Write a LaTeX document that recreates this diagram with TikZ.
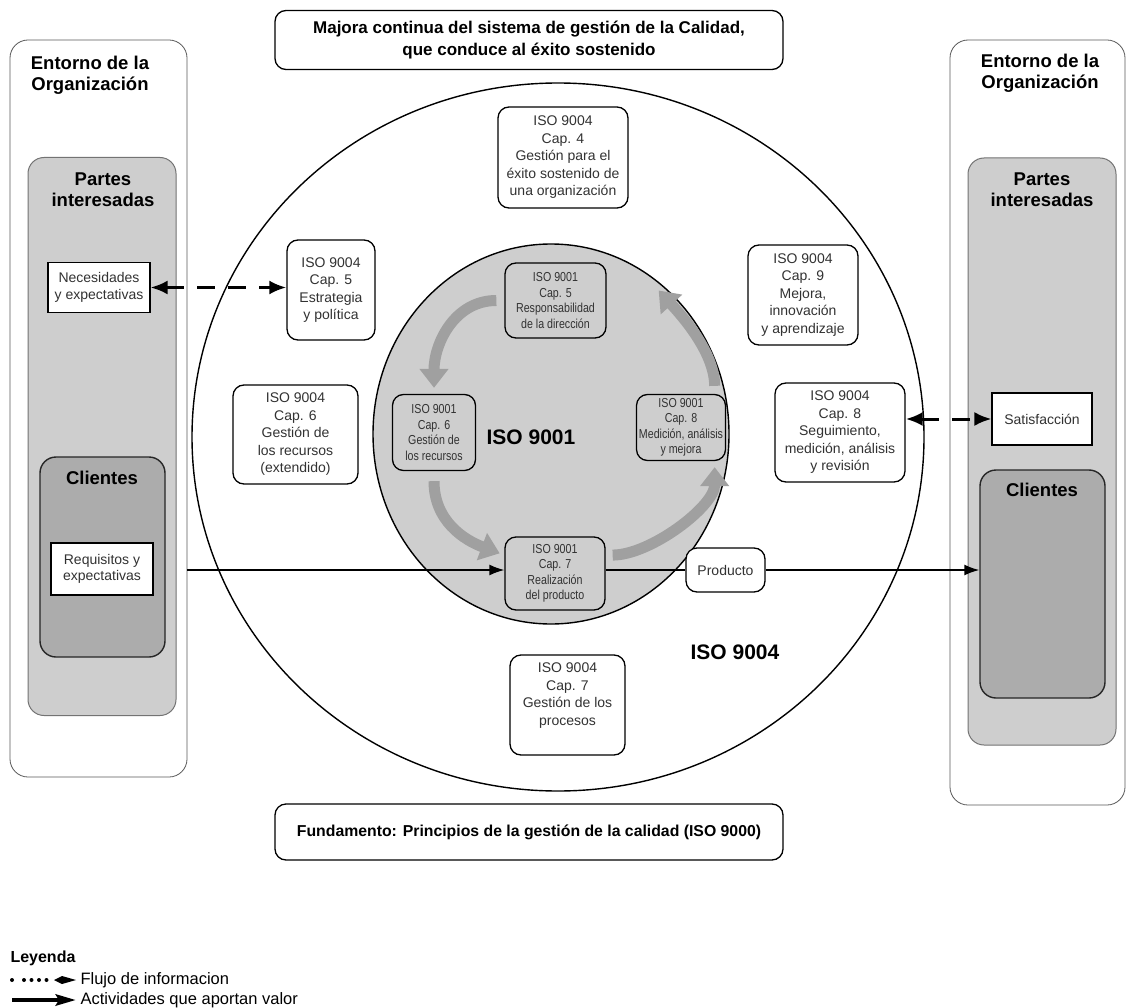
\documentclass[tikz,border=0pt]{standalone}
\usepackage{fontspec}
\setmainfont{Liberation Sans}
\newfontfamily\narrowsans[FakeStretch=0.82]{Liberation Sans}
\usetikzlibrary{arrows.meta,shapes.geometric,calc}
\definecolor{grisA}{RGB}{206,206,206}
\definecolor{grisB}{RGB}{172,172,172}
\definecolor{grisC}{RGB}{160,160,160}
\definecolor{texto}{RGB}{50,50,50}
\begin{document}
\begin{tikzpicture}[x=1pt,y=-1pt,
	wh/.style 2 args = {minimum width=#1pt,minimum height=#2pt},
	iso node/.style = {draw,rounded corners=11pt,fill=white,line width=1.3pt,align=center,inner sep=1pt,text=texto,font=\fontsize{14}{17.5}\selectfont},
	core node/.style = {iso node,fill=grisA,inner sep=0pt,font=\narrowsans\fontsize{13}{15.5}\selectfont},
	note node/.style = {draw,fill=white,line width=1.1pt,align=center,inner sep=1pt,text=texto,font=\fontsize{14}{16.5}\selectfont},
	env node/.style = {draw=black!65,fill=white,rounded corners=18pt,line width=0.8pt},
	group node/.style = {draw=black!55,fill=grisA,rounded corners=16pt,line width=1pt},
	client node/.style = {draw=black!85,fill=grisB,rounded corners=16pt,line width=1.4pt},
	head text/.style = {align=center,font=\bfseries\fontsize{18.5}{21}\selectfont},
	banner node/.style = {draw,rounded corners=11pt,line width=1.3pt,align=center,minimum width=508pt},
	big label/.style = {font=\bfseries\fontsize{21}{25}\selectfont},
	legend text/.style = {anchor=west,font=\fontsize{16.5}{18}\selectfont},
	turn arrow/.style = {line width=11pt,draw=grisC,-{Triangle[length=19pt,width=28pt]}},
	value flow/.style = {line width=1.6pt,-{Latex[length=15pt,width=11pt]}},
	info flow/.style = {line width=3pt,dash pattern=on 18pt off 13pt,{Latex[length=17pt,width=14pt]}-{Latex[length=17pt,width=14pt]}}]

	\fill[white] (0,0) rectangle (1126,1008);
	\useasboundingbox (0,0) rectangle (1126,1008);

	\node[env node,wh={177}{737}] (envL) at (98.5,408.5) {};
	\node[env node,wh={175}{765}] (envR) at (1037.5,422.5) {};
	\node[group node,wh={148}{558}] (partesL) at (102,436.5) {};
	\node[group node,wh={148}{587}] (partesR) at (1042,451.5) {};
	\node[client node,wh={125}{200}] (clientesL) at (102.5,557) {};
	\node[client node,wh={125}{228}] (clientesR) at (1042.5,584) {};

	\node[head text] (entL) at (90,75) {Entorno de la\\Organización};
	\node[head text] (entR) at (1040,73) {Entorno de la\\Organización};
	\node[head text] (parL) at (103,190) {Partes\\interesadas};
	\node[head text] (parR) at (1042,190) {Partes\\interesadas};
	\node[head text] (cliL) at (102,478) {Clientes};
	\node[head text] (cliR) at (1042,490) {Clientes};

	\node[note node,wh={102}{50}] (necesidades) at (99,287.5) {Necesidades\\y expectativas};
	\node[note node,wh={102}{52}] (requisitos) at (102,569) {Requisitos y\\expectativas};
	\node[note node,wh={100}{52}] (satisfaccion) at (1042,419) {Satisfacción};

	\node[ellipse,draw,line width=1.4pt,wh={732}{708}] (ring) at (558,437) {};
	\node[ellipse,draw,line width=1.4pt,fill=grisA,wh={356}{380}] (core) at (551,434) {};
	\node[big label] (lab9001) at (531,437) {ISO 9001};
	\node[big label] (lab9004) at (735,652) {ISO 9004};

	\node[banner node,wh={508}{59},font=\bfseries\fontsize{17}{22}\selectfont] (mejora) at (529,40) {Majora continua del sistema de gestión de la Calidad,\\que conduce al éxito sostenido};
	\node[banner node,wh={508}{56},font=\bfseries\fontsize{15.8}{19}\selectfont] (fundamento) at (529,832) {Fundamento: Principios de la gestión de la calidad (ISO 9000)};

	\node[iso node,wh={130}{101}] (g4) at (563,157.5) {ISO 9004\\Cap. 4\\Gestión para el\\éxito sostenido de\\una organización};
	\node[iso node,wh={88}{100}] (g5) at (331,290) {ISO 9004\\Cap. 5\\Estrategia\\y política};
	\node[iso node,wh={125}{99}] (g6) at (295.5,434.5) {ISO 9004\\Cap. 6\\Gestión de\\los recursos\\(extendido)};
	\node[iso node,wh={110}{100}] (g9) at (803,295) {ISO 9004\\Cap. 9\\Mejora,\\innovación\\y aprendizaje};
	\node[iso node,wh={130}{99}] (g8) at (840,432.5) {ISO 9004\\Cap. 8\\Seguimiento,\\medición, análisis\\y revisión};
	\node[iso node,wh={115}{100},text depth=22pt] (g7) at (567.5,705) {ISO 9004\\Cap. 7\\Gestión de los\\procesos};

	\node[core node,wh={101}{75}] (c5) at (555.5,300.5) {ISO 9001\\Cap. 5\\Responsabilidad\\de la dirección};
	\node[core node,wh={83}{76}] (c6) at (434,432.5) {ISO 9001\\Cap. 6\\Gestión de\\los recursos};
	\node[core node,wh={89}{66}] (c8) at (681,427.5) {ISO 9001\\Cap. 8\\Medición, análisis\\y mejora};
	\node[core node,wh={100}{73}] (c7) at (555,573.5) {ISO 9001\\Cap. 7\\Realización\\del producto};
	\node[iso node,wh={79}{44}] (producto) at (725.5,570) {Producto};
	\coordinate (tip4) at ($(c5.east)+(52,-10)$);

	\draw[turn arrow,shorten <=8pt,shorten >=6pt] (c5.west) .. controls +(-50,0) and +(0,-50) .. (c6.north);
	\draw[turn arrow,shorten <=10pt,shorten >=5pt] (c6.south) .. controls +(0,50) and +(-40,-15) .. (c7.160);
	\draw[turn arrow,shorten <=7pt,shorten >=6pt] (c7.20) .. controls +(45,0) and +(0,45) .. (c8.-45);
	\draw[turn arrow,shorten <=8pt] (c8.45) .. controls +(0,-42) and +(22,24) .. (tip4);

	\draw[info flow] (necesidades.east) -- (necesidades.east -| g5.west);
	\draw[info flow] (satisfaccion.west -| g8.east) -- (satisfaccion.west);

	\draw[value flow] (envL.east |- producto.west) -- (c7.west |- producto.west);
	\draw[line width=1.6pt] (c7.east |- producto.west) -- (producto.west);
	\draw[value flow] (producto.east) -- (producto.east -| clientesR.west);

	\node[anchor=west,font=\bfseries\fontsize{16}{18}\selectfont] (leyenda) at (7,958) {Leyenda};
	\coordinate (flujoA) at (12,980);
	\coordinate (flujoB) at (76,980);
	\coordinate (valorA) at (12,1000);
	\coordinate (valorB) at (76,1000);
	\draw[line width=4pt,line cap=round,dash pattern=on 0pt off 12pt on 0pt off 7.5pt on 0pt off 7.5pt on 0pt off 7.5pt on 0pt off 60pt,-{Kite[length=22pt,width=8pt,inset=8pt]}] (flujoA) -- (flujoB);
	\draw[line width=4.5pt,-{Stealth[length=20pt,width=11pt,inset=3pt]}] (valorA) -- (valorB);
	\node[legend text] (flujo) at (77,980) {Flujo de informacion};
	\node[legend text] (valor) at (77,1000) {Actividades que aportan valor};
\end{tikzpicture}
\end{document}
